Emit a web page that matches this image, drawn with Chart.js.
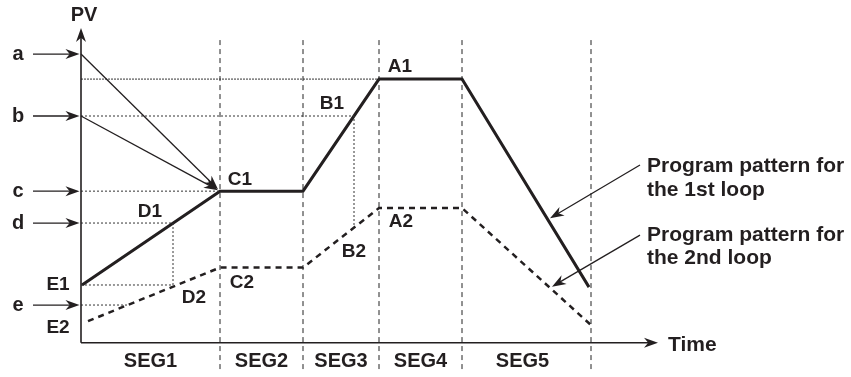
<!DOCTYPE html>
<html>
<head>
<meta charset="utf-8">
<script src="https://cdn.jsdelivr.net/npm/chart.js@4"></script>
<style>
  html, body { margin: 0; padding: 0; background: #fff; }
  #wrap { width: 851px; height: 377px; }
</style>
</head>
<body>
<div id="wrap"><canvas id="chart" width="851" height="377"></canvas></div>
<script>
// segment boundaries on the time axis
const segLabels = ['SEG1', 'SEG2', 'SEG3', 'SEG4', 'SEG5']
const segEnds = [13.9, 22.2, 29.8, 38.1, 51.0]

// program pattern, 1st loop (solid) and 2nd loop (dashed)
const loop1Time = [0.1, 13.9, 22.2, 29.8, 38.1, 50.8]
const loop1PV = [21.9, 57.5, 57.5, 100, 100, 21.1]
const loop2Time = [0.7, 13.9, 22.2, 29.8, 38.1, 51.0]
const loop2PV = [8.2, 28.5, 28.5, 51.1, 51.1, 6.7]

// PV levels marked on the axis
const levelNames = ['a', 'b', 'c', 'd', 'e']
const levelPV = [109.5, 86.0, 57.5, 45.4, 14.3]

// projection points used by the guide lines
const d1Time = 9.2
const b1Time = 27.3
const b2PV = 43.7
const e2Cross = 4.8

const legendText = [
  ['Program pattern for', 'the 1st loop'],
  ['Program pattern for', 'the 2nd loop']
]

const INK = '#231f20'
const FONT = '"Liberation Sans", Arial, Helvetica, sans-serif'

function pts(xs, ys) {
  return xs.map((x, i) => ({ x, y: ys[i] }))
}

function guide(data, dash, color) {
  return {
    data,
    showLine: true,
    borderColor: color || '#333',
    borderWidth: 1,
    borderDash: dash || [2, 2],
    pointRadius: 0,
    fill: false
  }
}

const datasets = []

// dashed segment separators
segEnds.forEach(t => {
  datasets.push(guide([{ x: t, y: 114.8 }, { x: t, y: -11.2 }], [5, 4], '#222'))
})

// guide lines
datasets.push(guide([{ x: 0, y: 100 }, { x: 29.8, y: 100 }], [2, 1]))
datasets.push(guide([{ x: 0, y: levelPV[1] }, { x: b1Time, y: levelPV[1] }, { x: b1Time, y: b2PV }], [2, 2]))
datasets.push(guide([{ x: 0, y: levelPV[2] }, { x: segEnds[0], y: levelPV[2] }], [2, 2]))
datasets.push(guide([
  { x: 0, y: levelPV[3] }, { x: d1Time, y: levelPV[3] },
  { x: d1Time, y: loop1PV[0] }, { x: 0, y: loop1PV[0] }
], [2, 2]))
datasets.push(guide([{ x: 0, y: levelPV[4] }, { x: e2Cross, y: levelPV[4] }], [2, 2]))

datasets.push({
  data: pts(loop2Time, loop2PV),
  showLine: true,
  borderColor: INK,
  borderWidth: 2.5,
  borderDash: [6, 5],
  pointRadius: 0
})
datasets.push({
  data: pts(loop1Time, loop1PV),
  showLine: true,
  borderColor: INK,
  borderWidth: 3,
  pointRadius: 0
})

function arrow(ctx, x1, y1, x2, y2, width) {
  const ang = Math.atan2(y2 - y1, x2 - x1)
  const len = 14
  const half = 5
  ctx.save()
  ctx.strokeStyle = INK
  ctx.fillStyle = INK
  ctx.lineWidth = width || 1.3
  ctx.beginPath()
  ctx.moveTo(x1, y1)
  ctx.lineTo(x2 - Math.cos(ang) * len * 0.6, y2 - Math.sin(ang) * len * 0.6)
  ctx.stroke()
  ctx.translate(x2, y2)
  ctx.rotate(ang)
  ctx.beginPath()
  ctx.moveTo(0, 0)
  ctx.lineTo(-len, -half)
  ctx.lineTo(-len * 0.7, 0)
  ctx.lineTo(-len, half)
  ctx.closePath()
  ctx.fill()
  ctx.restore()
}

function lerpPV(times, pvs, t) {
  for (let i = 1; i < times.length; i++) {
    if (t <= times[i]) {
      const f = (t - times[i - 1]) / (times[i] - times[i - 1])
      return pvs[i - 1] + (pvs[i] - pvs[i - 1]) * f
    }
  }
  return pvs[pvs.length - 1]
}

const diagramPlugin = {
  id: 'diagram',
  afterDatasetsDraw(chart) {
    const ctx = chart.ctx
    const sx = chart.scales.x
    const sy = chart.scales.y
    const X = v => sx.getPixelForValue(v)
    const Y = v => sy.getPixelForValue(v)

    // axes
    arrow(ctx, X(0), Y(0), X(0), Y(119.4), 1.6)
    arrow(ctx, X(0), Y(0), X(57.7), Y(0), 1.6)

    // level arrows
    levelPV.forEach(pv => arrow(ctx, X(-4.8), Y(pv), X(-0.15), Y(pv)))

    // a and b converge on C1
    arrow(ctx, X(0), Y(levelPV[0]), X(segEnds[0]) - 2, Y(levelPV[2]) - 2)
    arrow(ctx, X(0), Y(levelPV[1]), X(segEnds[0]) - 2, Y(levelPV[2]) - 1)

    // legend arrows
    const t1 = 46.6
    const t2 = 47.1
    arrow(ctx, X(55.9), Y(67.4), X(t1) + 3, Y(lerpPV(loop1Time, loop1PV, t1)))
    arrow(ctx, X(55.9), Y(40.8), X(t2), Y(lerpPV(loop2Time, loop2PV, t2)) - 3)

    ctx.save()
    ctx.fillStyle = INK
    ctx.textBaseline = 'middle'
    ctx.textAlign = 'center'
    ctx.font = 'bold 20px ' + FONT

    ctx.fillText('PV', X(0) + 3, 15)
    levelNames.forEach((n, i) => ctx.fillText(n, X(-6.3), Y(levelPV[i])))

    ctx.font = 'bold 19px ' + FONT
    const labels = [
      ['A1', X(29.8) + 21, Y(100) - 12],
      ['B1', X(b1Time) - 22, Y(levelPV[1]) - 12],
      ['C1', X(segEnds[0]) + 20, Y(levelPV[2]) - 11],
      ['D1', X(d1Time) - 23, Y(levelPV[3]) - 11],
      ['E1', X(0) - 23, Y(loop1PV[0])],
      ['A2', X(29.8) + 22, Y(51.1) + 14],
      ['B2', X(b1Time), Y(b2PV) + 24],
      ['C2', X(segEnds[0]) + 22, Y(28.5) + 15],
      ['D2', X(d1Time) + 21, Y(lerpPV(loop2Time, loop2PV, d1Time)) + 11],
      ['E2', X(0) - 23, Y(loop2PV[0]) + 7]
    ]
    labels.forEach(([txt, x, y]) => ctx.fillText(txt, x, y))

    // segment names
    ctx.font = 'bold 20px ' + FONT
    let prev = 0
    segLabels.forEach((s, i) => {
      ctx.fillText(s, (X(prev) + X(segEnds[i])) / 2 - (i === 4 ? 4 : 0), Y(0) + 19)
      prev = segEnds[i]
    })

    ctx.textAlign = 'left'
    ctx.font = 'bold 21px ' + FONT
    ctx.fillText('Time', X(57.7) + 10, Y(0) + 2)
    ctx.fillText(legendText[0][0], 647, 166)
    ctx.fillText(legendText[0][1], 647, 190)
    ctx.fillText(legendText[1][0], 647, 235)
    ctx.fillText(legendText[1][1], 647, 258)
    ctx.restore()
  }
}

new Chart(document.getElementById('chart'), {
  type: 'scatter',
  data: { datasets },
  options: {
    responsive: false,
    animation: false,
    layout: { padding: 0 },
    scales: {
      x: { type: 'linear', min: -8.1, max: 77, display: false },
      y: { type: 'linear', min: -13, max: 130, display: false }
    },
    plugins: {
      legend: { display: false },
      tooltip: { enabled: false }
    }
  },
  plugins: [diagramPlugin]
})
</script>
</body>
</html>
